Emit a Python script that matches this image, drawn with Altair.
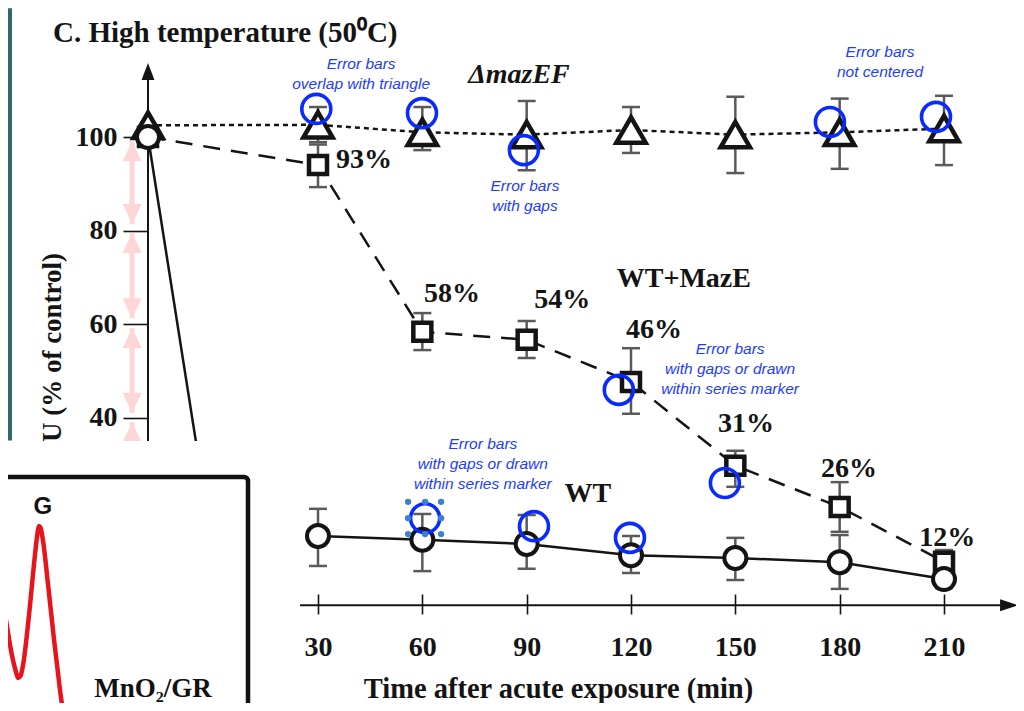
import altair as alt
import pandas as pd

# ---------------- data ----------------
times = [0, 30, 60, 90, 120, 150, 180, 210]

mazef_val = [102.5, 102.6, 101.0, 100.5, 101.5, 100.5, 101.0, 101.8]
mazef_hi = [102.5, 106.4, 106.4, 107.7, 106.4, 108.6, 108.2, 108.8]
mazef_lo = [102.5, 98.9, 97.2, 92.9, 96.6, 92.3, 93.2, 94.0]

maze_val = [100.0, 94.0, 58.4, 56.7, 47.7, 29.8, 21.0, 9.3]
maze_hi = [100.0, 98.4, 62.4, 60.7, 54.9, 33.0, 26.3, 11.8]
maze_lo = [100.0, 89.3, 54.5, 52.8, 40.9, 25.3, 15.7, 7.1]

wt_times = [0, 13, 30, 60, 90, 120, 150, 180, 210]
wt_val = [100.0, 0.0, 14.8, 14.0, 13.1, 10.7, 10.1, 9.2, 5.6]
wt_hi = [100.0, 0.0, 20.6, 19.5, 19.3, 14.8, 14.4, 15.0, 7.5]
wt_lo = [100.0, 0.0, 8.4, 7.3, 7.8, 6.9, 5.4, 3.5, 3.7]
wt_seg = [0, 0, 1, 1, 1, 1, 1, 1, 1]

x_ticks = [30, 60, 90, 120, 150, 180, 210]
y_ticks = [0, 20, 40, 60, 80, 100]

pct_text = ["93%", "58%", "54%", "46%", "31%", "26%", "12%"]
pct_t = [43.2, 68.5, 100.2, 126.6, 153.1, 182.7, 210.9]
pct_v = [93.4, 64.8, 63.5, 57.1, 37.0, 27.4, 12.7]

name_text = ["WT+MazE", "WT"]
name_t = [135.2, 107.6]
name_v = [68.0, 22.1]
italic_name = ["ΔmazEF"]
italic_t = [87.8]
italic_v = [111.5]

note_text = [
    "Error bars\noverlap with triangle",
    "Error bars\nwith gaps",
    "Error bars\nnot centered",
    "Error bars\nwith gaps or drawn\nwithin series marker",
    "Error bars\nwith gaps or drawn\nwithin series marker",
]
note_t = [42.4, 89.5, 191.6, 148.5, 77.4]
note_v = [114.6, 88.4, 117.0, 53.6, 33.3]

ring_t = [29.7, 59.9, 89.2, 177.2, 207.7, 116.5, 147.0, 119.7, 92.1, 60.8]
ring_v = [106.0, 105.1, 97.2, 103.2, 104.3, 46.0, 26.1, 14.4, 16.9, 18.6]

handle_t = [55.9, 60.8, 65.4, 55.9, 65.4, 55.9, 60.8, 65.4]
handle_v = [22.1, 22.1, 22.1, 18.6, 18.6, 15.2, 15.2, 15.2]

arrow_top = [99.1, 79.5, 59.2, 39.1]
arrow_bottom = [81.4, 61.3, 41.1, 20.8]
arrow_t = -2.8

# inset picture (own units 0-100)
curve_u = [-1.6, 0.0, 2.4, 4.8, 6.5, 7.3, 8.3, 9.3, 11.7, 14.1, 15.2, 15.7, 16.3, 17.3, 19.4, 21.8, 24.2, 25.8]
curve_v = [62.4, 53.0, 38.9, 23.9, 16.5, 14.1, 15.0, 19.7, 41.0, 66.7, 76.5, 79.1, 78.5, 73.1, 53.8, 30.3, 9.0, -3.8]

# ---------------- styling ----------------
SERIF = "Liberation Serif"
SANS = "Liberation Sans"
INK = "#141414"
ERR = "#5a5a5a"
BLUE_TXT = "#1d3cff"
BLUE_RING = "#0a2bff"
PINK = "#ffd6d6"

X = alt.Scale(domain=[0, 30, 210], range=[140, 310, 936], nice=False, zero=False)
Y = alt.Scale(domain=[0, 100], range=[597.3, 129.0], nice=False, zero=False)

AX = alt.Axis(
    orient="bottom", offset=-109, values=x_ticks, tickSize=20, tickWidth=1.6,
    tickColor=INK, domain=False, grid=False, labelFont=SERIF, labelFontSize=28,
    labelFontWeight="bold", labelColor=INK, labelBaseline="alphabetic",
    labelPadding=41, labelAngle=0, labelFlush=False, labelOverlap=False,
    title="Time after acute exposure (min)", titleFont=SERIF, titleFontSize=28.5,
    titleFontWeight="bold", titleColor=INK, titleX=550, titleY=103,
    titleAlign="center", titleBaseline="alphabetic",
)
AY = alt.Axis(
    orient="left", offset=-140, values=y_ticks, tickSize=25, tickWidth=1.6,
    tickColor=INK, domain=False, grid=False, labelFont=SERIF, labelFontSize=28,
    labelFontWeight="bold", labelColor=INK, labelPadding=6,
    labelBaseline="middle", labelFlush=False, labelOverlap=False,
    title="CFU (% of control)", titleFont=SERIF, titleFontSize=27,
    titleFontWeight="bold", titleColor=INK, titleAngle=270, titleX=-96,
    titleY=357, titleAlign="center", titleBaseline="middle",
)


def ex(f):
    return alt.X(f"{f}:Q", scale=X, axis=AX)


def ey(f):
    return alt.Y(f"{f}:Q", scale=Y, axis=AY)


# ---------------- frames ----------------
series = pd.concat([
    pd.DataFrame({"s": "mazEF", "t": times, "v": mazef_val, "hi": mazef_hi, "lo": mazef_lo, "seg": 1}),
    pd.DataFrame({"s": "MazE", "t": times, "v": maze_val, "hi": maze_hi, "lo": maze_lo, "seg": 1}),
    pd.DataFrame({"s": "WT", "t": wt_times, "v": wt_val, "hi": wt_hi, "lo": wt_lo, "seg": wt_seg}),
], ignore_index=True)

base = alt.Chart(series)

teal = alt.Chart(pd.DataFrame({"a": [-30], "b": [-24], "c": [35.2], "d": [127.5]})).mark_rect(
    color="#2e6a66").encode(x=ex("a"), x2="b:Q", y=ey("c"), y2="d:Q")

arrows = pd.DataFrame({"t": [arrow_t] * 4, "top": arrow_top, "bot": arrow_bottom})
arrow_shaft = alt.Chart(arrows).mark_rule(color=PINK, strokeWidth=5).encode(
    x=ex("t"), y=ey("top"), y2="bot:Q")
arrow_up = alt.Chart(arrows).mark_point(
    shape="M0,0L-0.95,2L0.95,2Z", size=400, filled=True, color=PINK, opacity=1
).encode(x=ex("t"), y=ey("top"))
arrow_dn = alt.Chart(arrows).mark_point(
    shape="M0,0L-0.95,-2L0.95,-2Z", size=400, filled=True, color=PINK, opacity=1
).encode(x=ex("t"), y=ey("bot"))

yline = alt.Chart(pd.DataFrame({"t": [0], "a": [-5], "b": [113.2]})).mark_rule(
    color=INK, strokeWidth=2).encode(x=ex("t"), y=ey("a"), y2="b:Q")
yhead = alt.Chart(pd.DataFrame({"t": [0], "v": [115.8]})).mark_point(
    shape="M0,0L-0.76,2L0.76,2Z", size=289, filled=True, color=INK, opacity=1
).encode(x=ex("t"), y=ey("v"))
xline = alt.Chart(pd.DataFrame({"a": [24.3], "b": [227.5], "v": [0]})).mark_rule(
    color=INK, strokeWidth=2).encode(x=ex("a"), x2="b:Q", y=ey("v"))
xhead = alt.Chart(pd.DataFrame({"t": [231.3], "v": [0]})).mark_point(
    shape="M0,0L-2,-0.67L-2,0.67Z", size=324, filled=True, color=INK, opacity=1
).encode(x=ex("t"), y=ey("v"))

errs = base.transform_filter("datum.hi > datum.lo")
err_rule = errs.mark_rule(color=ERR, strokeWidth=2.5).encode(x=ex("t"), y=ey("lo"), y2="hi:Q")
err_cap_hi = errs.mark_tick(orient="horizontal", size=18, thickness=2.5, color=ERR, opacity=1).encode(
    x=ex("t"), y=ey("hi"))
err_cap_lo = errs.mark_tick(orient="horizontal", size=18, thickness=2.5, color=ERR, opacity=1).encode(
    x=ex("t"), y=ey("lo"))

line_wt = base.transform_filter("datum.s == 'WT'").mark_line(color=INK, strokeWidth=2.5).encode(
    x=ex("t"), y=ey("v"), detail="seg:N")
line_maze = base.transform_filter("datum.s == 'MazE'").mark_line(
    color=INK, strokeWidth=2.5, strokeDash=[17, 11]).encode(x=ex("t"), y=ey("v"))
line_mazef = base.transform_filter("datum.s == 'mazEF'").mark_line(
    color=INK, strokeWidth=2.5, strokeDash=[5, 4]).encode(x=ex("t"), y=ey("v"))

pt_wt = base.transform_filter("datum.s == 'WT'").mark_point(
    shape="circle", size=484, filled=True, fill="white", stroke=INK, strokeWidth=4, opacity=1
).encode(x=ex("t"), y=ey("v"))
pt_maze = base.transform_filter("datum.s == 'MazE'").mark_point(
    shape="square", size=324, filled=True, fill="white", stroke=INK, strokeWidth=4.5, opacity=1
).encode(x=ex("t"), y=ey("v"))
pt_mazef = base.transform_filter("datum.s == 'mazEF'").mark_point(
    shape="triangle-up", size=860, filled=True, fill="white", stroke=INK, strokeWidth=4.5, opacity=1
).encode(x=ex("t"), y=ey("v"))

rings = alt.Chart(pd.DataFrame({"t": ring_t, "v": ring_v})).mark_point(
    shape="circle", size=841, filled=False, stroke=BLUE_RING, strokeWidth=3.6, opacity=1
).encode(x=ex("t"), y=ey("v"))
handles = alt.Chart(pd.DataFrame({"t": handle_t, "v": handle_v})).mark_point(
    shape="circle", size=40, filled=True, color="#3b7fd9", opacity=1
).encode(x=ex("t"), y=ey("v"))

pct = alt.Chart(pd.DataFrame({"t": pct_t, "v": pct_v, "label": pct_text})).mark_text(
    font=SERIF, fontSize=28, fontWeight="bold", color=INK, align="center", baseline="alphabetic"
).encode(x=ex("t"), y=ey("v"), text="label:N")
names = alt.Chart(pd.DataFrame({"t": name_t, "v": name_v, "label": name_text})).mark_text(
    font=SERIF, fontSize=28, fontWeight="bold", color=INK, align="center", baseline="alphabetic"
).encode(x=ex("t"), y=ey("v"), text="label:N")
names_it = alt.Chart(pd.DataFrame({"t": italic_t, "v": italic_v, "label": italic_name})).mark_text(
    font=SERIF, fontSize=28, fontWeight="bold", fontStyle="italic", color=INK, align="center",
    baseline="alphabetic"
).encode(x=ex("t"), y=ey("v"), text="label:N")
notes = alt.Chart(pd.DataFrame({"t": note_t, "v": note_v, "label": note_text})).mark_text(
    font=SANS, fontSize=15.5, fontStyle="italic", color=BLUE_TXT, align="center",
    baseline="alphabetic", lineBreak="\n", lineHeight=20
).encode(x=ex("t"), y=ey("v"), text="label:N")

main = alt.layer(
    teal, arrow_shaft, arrow_up, arrow_dn, yline, yhead, xline, xhead,
    err_rule, err_cap_hi, err_cap_lo, line_wt, line_maze, line_mazef,
    pt_maze, pt_mazef, pt_wt, rings, handles, pct, names, names_it, notes,
)

# ---------------- inset picture overlapping the lower left ----------------
IX = alt.Scale(domain=[0, 100], range=[-8, 240], nice=False, zero=False)
IY = alt.Scale(domain=[0, 100], range=[703, 469], nice=False, zero=False)


def ix(f):
    return alt.X(f"{f}:Q", scale=IX, axis=None)


def iy(f):
    return alt.Y(f"{f}:Q", scale=IY, axis=None)


cover = alt.Chart(pd.DataFrame({"a": [-10], "b": [121], "c": [-10], "d": [115.4]})).mark_rect(
    color="white").encode(x=ix("a"), x2="b:Q", y=iy("c"), y2="d:Q")
box = alt.Chart(pd.DataFrame({"a": [-5], "b": [100], "c": [-10], "d": [100]})).mark_rect(
    fill="white", stroke="#111111", strokeWidth=4.5, cornerRadius=4).encode(
    x=ix("a"), x2="b:Q", y=iy("c"), y2="d:Q")
curve = alt.Chart(pd.DataFrame({"u": curve_u, "w": curve_v, "i": list(range(len(curve_u)))})).mark_line(
    color="#e8141c", strokeWidth=4.5, interpolate="monotone").encode(
    x=ix("u"), y=iy("w"), order="i:Q")
g_lbl = alt.Chart(pd.DataFrame({"u": [17.3], "w": [87.2], "label": ["G"]})).mark_text(
    font=SANS, fontSize=24, fontWeight="bold", color="#111111", align="center", baseline="middle"
).encode(x=ix("u"), y=iy("w"), text="label:N")
mn_lbl = alt.Chart(pd.DataFrame({"u": [61.7], "w": [9.6], "label": ["MnO₂/GR"]})).mark_text(
    font=SERIF, fontSize=27, fontWeight="bold", color="#111111", align="center", baseline="middle"
).encode(x=ix("u"), y=iy("w"), text="label:N")

inset = alt.layer(cover, box, curve, g_lbl, mn_lbl)

chart = alt.layer(main, inset).resolve_scale(x="independent", y="independent").properties(
    width=1008, height=695, padding=0,
    autosize=alt.AutoSizeParams(type="none"),
    background="white",
    title=alt.Title(
        text="C. High temperature (50⁰C)", anchor="start", frame="group", orient="top",
        offset=0, dx=45, dy=63, font=SERIF, fontSize=29, fontWeight="bold", color=INK,
        baseline="alphabetic",
    ),
).configure_view(stroke=None)

chart.save("out.html", embed_options={"renderer": "svg", "actions": False})
